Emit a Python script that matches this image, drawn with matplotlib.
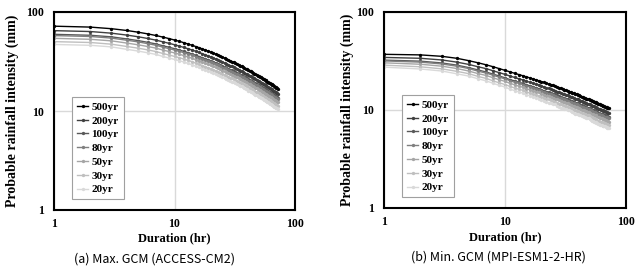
import matplotlib
matplotlib.use("Agg")
import matplotlib.pyplot as plt
from matplotlib.ticker import FixedLocator, FixedFormatter, NullLocator

# durations (hr)
duration = list(range(1, 73))
periods = ["500yr", "200yr", "100yr", "80yr", "50yr", "30yr", "20yr"]

# (a) Max. GCM (ACCESS-CM2), rainfall intensity (mm) per return period
a_500 = [71.9, 70.4, 67.8, 65.1, 62.5, 60.1, 57.9, 55.8, 53.9, 52.1, 50.5, 48.9, 47.4, 46.1, 44.8, 43.6, 42.4, 41.3,
         40.3, 39.3, 38.4, 37.5, 36.6, 35.8, 35.0, 34.3, 33.6, 32.9, 32.2, 31.6, 31.0, 30.4, 29.8, 29.3, 28.7, 28.2,
         27.7, 27.2, 26.8, 26.3, 25.9, 25.5, 25.1, 24.7, 24.3, 23.9, 23.5, 23.2, 22.8, 22.5, 22.2, 21.8, 21.5, 21.2,
         20.9, 20.6, 20.4, 20.1, 19.8, 19.6, 19.3, 19.1, 18.8, 18.6, 18.3, 18.1, 17.9, 17.6, 17.4, 17.2, 17.0, 16.8]
a_200 = [64.8, 63.5, 61.1, 58.5, 56.2, 54.0, 52.0, 50.0, 48.3, 46.7, 45.2, 43.8, 42.5, 41.3, 40.1, 39.0, 37.9, 36.9,
         36.0, 35.1, 34.3, 33.5, 32.7, 32.0, 31.2, 30.6, 30.0, 29.4, 28.7, 28.2, 27.7, 27.1, 26.6, 26.2, 25.6, 25.2,
         24.7, 24.3, 23.9, 23.5, 23.1, 22.7, 22.4, 22.0, 21.6, 21.3, 20.9, 20.7, 20.3, 20.0, 19.8, 19.4, 19.1, 18.9,
         18.6, 18.3, 18.2, 17.9, 17.6, 17.5, 17.2, 17.0, 16.7, 16.6, 16.3, 16.1, 15.9, 15.7, 15.5, 15.3, 15.1, 15.0]
a_100 = [59.5, 58.2, 56.1, 53.5, 51.4, 49.4, 47.6, 45.6, 44.1, 42.6, 41.3, 40.0, 38.7, 37.7, 36.5, 35.5, 34.5, 33.6,
         32.8, 32.0, 31.3, 30.6, 29.8, 29.2, 28.4, 27.8, 27.3, 26.7, 26.1, 25.7, 25.2, 24.7, 24.2, 23.8, 23.3, 22.9,
         22.5, 22.1, 21.8, 21.4, 21.0, 20.6, 20.3, 20.0, 19.7, 19.3, 19.0, 18.8, 18.4, 18.2, 18.0, 17.6, 17.4, 17.1,
         16.9, 16.7, 16.5, 16.3, 16.0, 15.9, 15.6, 15.5, 15.2, 15.0, 14.8, 14.6, 14.5, 14.2, 14.1, 13.9, 13.8, 13.6]
a_80 = [57.8, 56.6, 54.5, 51.9, 49.9, 47.9, 46.2, 44.2, 42.7, 41.3, 40.0, 38.8, 37.6, 36.6, 35.4, 34.4, 33.5, 32.6,
        31.8, 31.0, 30.3, 29.6, 28.9, 28.3, 27.5, 27.0, 26.4, 25.9, 25.3, 24.9, 24.4, 23.9, 23.4, 23.1, 22.6, 22.2,
        21.8, 21.4, 21.1, 20.7, 20.3, 20.0, 19.7, 19.3, 19.0, 18.7, 18.4, 18.2, 17.9, 17.6, 17.4, 17.1, 16.8, 16.6,
        16.4, 16.1, 16.0, 15.7, 15.5, 15.4, 15.1, 15.0, 14.7, 14.6, 14.3, 14.2, 14.0, 13.8, 13.6, 13.5, 13.3, 13.2]
a_50 = [54.2, 53.0, 51.1, 48.6, 46.6, 44.8, 43.2, 41.3, 39.9, 38.6, 37.4, 36.2, 35.1, 34.1, 33.0, 32.1, 31.2, 30.4,
        29.7, 28.9, 28.3, 27.6, 27.0, 26.4, 25.6, 25.1, 24.6, 24.1, 23.6, 23.2, 22.7, 22.3, 21.8, 21.5, 21.0, 20.7,
        20.3, 19.9, 19.6, 19.3, 18.9, 18.6, 18.3, 18.0, 17.7, 17.4, 17.1, 16.9, 16.6, 16.4, 16.2, 15.9, 15.7, 15.4,
        15.2, 15.0, 14.9, 14.6, 14.4, 14.3, 14.1, 13.9, 13.7, 13.6, 13.3, 13.2, 13.0, 12.8, 12.7, 12.5, 12.4, 12.2]
a_30 = [50.2, 49.2, 47.3, 44.9, 43.1, 41.4, 39.9, 38.1, 36.8, 35.6, 34.5, 33.4, 32.4, 31.5, 30.4, 29.6, 28.8, 28.0,
        27.3, 26.6, 26.0, 25.4, 24.8, 24.3, 23.6, 23.1, 22.6, 22.2, 21.7, 21.3, 20.9, 20.5, 20.1, 19.7, 19.3, 19.0,
        18.7, 18.3, 18.1, 17.7, 17.3, 17.1, 16.8, 16.5, 16.3, 16.0, 15.7, 15.5, 15.3, 15.1, 14.9, 14.6, 14.4, 14.2,
        14.0, 13.8, 13.6, 13.4, 13.2, 13.1, 12.9, 12.8, 12.6, 12.4, 12.2, 12.1, 12.0, 11.8, 11.6, 11.5, 11.4, 11.2]
a_20 = [47.0, 46.1, 44.4, 42.0, 40.3, 38.7, 37.3, 35.6, 34.3, 33.2, 32.2, 31.2, 30.2, 29.4, 28.3, 27.6, 26.8, 26.1,
        25.5, 24.8, 24.3, 23.7, 23.1, 22.6, 22.0, 21.5, 21.1, 20.6, 20.2, 19.8, 19.5, 19.1, 18.7, 18.4, 18.0, 17.7,
        17.4, 17.1, 16.8, 16.5, 16.1, 15.9, 15.6, 15.4, 15.1, 14.9, 14.6, 14.4, 14.2, 14.0, 13.8, 13.6, 13.4, 13.2,
        13.0, 12.8, 12.7, 12.5, 12.3, 12.2, 12.0, 11.9, 11.7, 11.6, 11.4, 11.3, 11.1, 10.9, 10.8, 10.7, 10.6, 10.5]

# (b) Min. GCM (MPI-ESM1-2-HR)
b_500 = [37.0, 36.5, 35.3, 33.7, 31.9, 30.3, 28.9, 27.6, 26.4, 25.4, 24.5, 23.7, 23.0, 22.4, 21.8, 21.3, 20.8, 20.3,
         19.9, 19.5, 19.1, 18.7, 18.4, 18.1, 17.8, 17.5, 17.2, 16.9, 16.6, 16.4, 16.1, 15.9, 15.7, 15.4, 15.2, 15.0,
         14.8, 14.6, 14.5, 14.3, 14.1, 13.9, 13.7, 13.6, 13.4, 13.3, 13.1, 13.0, 12.9, 12.7, 12.6, 12.5, 12.3, 12.2,
         12.1, 12.0, 11.9, 11.7, 11.6, 11.5, 11.4, 11.3, 11.2, 11.1, 11.0, 10.9, 10.85, 10.8, 10.7, 10.6, 10.5, 10.4]
b_200 = [34.4, 33.7, 32.4, 30.8, 29.2, 27.6, 26.4, 25.1, 24.0, 23.1, 22.2, 21.5, 20.8, 20.3, 19.7, 19.2, 18.8, 18.3,
         18.0, 17.6, 17.2, 16.8, 16.6, 16.3, 16.0, 15.8, 15.4, 15.2, 14.9, 14.7, 14.4, 14.3, 14.1, 13.8, 13.6, 13.5,
         13.2, 13.1, 13.0, 12.8, 12.6, 12.4, 12.3, 12.2, 12.0, 11.9, 11.7, 11.6, 11.5, 11.4, 11.2, 11.1, 11.0, 10.9,
         10.8, 10.7, 10.6, 10.4, 10.3, 10.2, 10.2, 10.1, 10.0, 9.9, 9.8, 9.7, 9.7, 9.6, 9.5, 9.4, 9.4, 9.3]
b_100 = [32.3, 31.5, 30.2, 28.7, 27.1, 25.6, 24.4, 23.2, 22.2, 21.3, 20.4, 19.8, 19.2, 18.7, 18.1, 17.7, 17.3, 16.8,
         16.5, 16.1, 15.7, 15.4, 15.2, 14.9, 14.7, 14.4, 14.1, 13.9, 13.6, 13.4, 13.2, 13.0, 12.9, 12.6, 12.5, 12.3,
         12.1, 11.9, 11.8, 11.7, 11.5, 11.3, 11.2, 11.1, 10.9, 10.8, 10.7, 10.6, 10.5, 10.4, 10.2, 10.1, 10.0, 9.9,
         9.8, 9.7, 9.6, 9.5, 9.4, 9.3, 9.2, 9.2, 9.1, 9.0, 8.9, 8.8, 8.8, 8.7, 8.7, 8.6, 8.5, 8.4]
b_80 = [31.7, 30.8, 29.5, 28.0, 26.5, 24.9, 23.8, 22.6, 21.6, 20.8, 19.9, 19.2, 18.7, 18.2, 17.6, 17.2, 16.8, 16.4,
        16.0, 15.6, 15.3, 15.0, 14.7, 14.5, 14.3, 14.0, 13.7, 13.4, 13.2, 13.0, 12.8, 12.6, 12.5, 12.2, 12.1, 11.9,
        11.7, 11.5, 11.5, 11.3, 11.1, 11.0, 10.8, 10.7, 10.6, 10.5, 10.4, 10.3, 10.2, 10.0, 9.9, 9.8, 9.6, 9.6,
        9.5, 9.4, 9.3, 9.2, 9.1, 9.0, 8.9, 8.9, 8.8, 8.7, 8.6, 8.5, 8.5, 8.5, 8.4, 8.3, 8.2, 8.2]
b_50 = [30.3, 29.3, 28.0, 26.5, 25.0, 23.5, 22.5, 21.3, 20.3, 19.6, 18.7, 18.1, 17.5, 17.1, 16.5, 16.1, 15.7, 15.4,
        15.1, 14.6, 14.3, 14.0, 13.8, 13.6, 13.3, 13.1, 12.8, 12.6, 12.3, 12.2, 12.0, 11.8, 11.7, 11.4, 11.3, 11.1,
        10.9, 10.8, 10.7, 10.5, 10.4, 10.2, 10.1, 10.0, 9.9, 9.8, 9.7, 9.6, 9.5, 9.4, 9.2, 9.1, 9.0, 8.9,
        8.8, 8.8, 8.7, 8.5, 8.5, 8.4, 8.3, 8.2, 8.2, 8.1, 8.0, 8.0, 7.9, 7.9, 7.8, 7.7, 7.7, 7.6]
b_30 = [28.7, 27.6, 26.3, 24.8, 23.5, 22.0, 21.0, 19.8, 18.9, 18.2, 17.4, 16.8, 16.3, 15.9, 15.3, 14.9, 14.6, 14.2,
        14.0, 13.5, 13.3, 13.0, 12.8, 12.6, 12.3, 12.1, 11.8, 11.6, 11.4, 11.2, 11.0, 10.9, 10.8, 10.6, 10.4, 10.3,
        10.0, 9.9, 9.8, 9.7, 9.6, 9.4, 9.3, 9.2, 9.1, 9.0, 8.9, 8.8, 8.8, 8.6, 8.4, 8.4, 8.2, 8.2,
        8.1, 8.0, 8.0, 7.8, 7.8, 7.7, 7.6, 7.6, 7.5, 7.4, 7.4, 7.3, 7.3, 7.2, 7.2, 7.1, 7.0, 7.0]
b_20 = [27.4, 26.2, 25.0, 23.4, 22.2, 20.8, 19.8, 18.7, 17.8, 17.2, 16.3, 15.8, 15.3, 14.9, 14.3, 14.0, 13.7, 13.4,
        13.1, 12.7, 12.4, 12.1, 11.9, 11.8, 11.6, 11.4, 11.0, 10.8, 10.6, 10.5, 10.3, 10.2, 10.1, 9.9, 9.7, 9.6,
        9.4, 9.2, 9.2, 9.0, 8.9, 8.8, 8.7, 8.6, 8.5, 8.4, 8.3, 8.2, 8.2, 8.0, 7.9, 7.8, 7.7, 7.6,
        7.5, 7.5, 7.4, 7.3, 7.2, 7.2, 7.1, 7.1, 7.0, 6.9, 6.9, 6.8, 6.8, 6.7, 6.7, 6.6, 6.6, 6.5]

panel_a = [a_500, a_200, a_100, a_80, a_50, a_30, a_20]
panel_b = [b_500, b_200, b_100, b_80, b_50, b_30, b_20]
captions = ["(a) Max. GCM (ACCESS-CM2)", "(b) Min. GCM (MPI-ESM1-2-HR)"]

colors = ["#000000", "#3f3f3f", "#595959", "#7f7f7f", "#a5a5a5", "#bfbfbf", "#d9d9d9"]
W, H = 643, 276
serif = "Liberation Serif"

fig = plt.figure(figsize=(W / 100, H / 100), dpi=100)
fig.patch.set_facecolor("white")

# axes boxes in pixels: left, top, right, bottom
boxes = [(54, 12, 295, 210), (384, 12, 626, 208)]
leg_px = [(72, 97), (402, 95)]
ylab_x = [12, 347]
xlab_y = [238, 237]
cap_pos = [(155, 259), (498, 257)]

for i, series in enumerate([panel_a, panel_b]):
    l, t, r, b = boxes[i]
    ax = fig.add_axes([l / W, 1 - b / H, (r - l) / W, (b - t) / H])
    for vals, lab, c in zip(series, periods, colors):
        ax.plot(duration, vals, color=c, lw=1.0, marker="o", ms=2.4, mew=0, label=lab)

    ax.set_xscale("log")
    ax.set_yscale("log")
    ax.set_xlim(1, 100)
    ax.set_ylim(1, 100)
    for axis in (ax.xaxis, ax.yaxis):
        axis.set_major_locator(FixedLocator([1, 10, 100]))
        axis.set_major_formatter(FixedFormatter(["1", "10", "100"]))
        axis.set_minor_locator(NullLocator())
    ax.tick_params(length=0, labelsize=8.5)
    ax.tick_params(axis="y", pad=7)
    ax.tick_params(axis="x", pad=6)
    for lbl in ax.get_xticklabels() + ax.get_yticklabels():
        lbl.set_fontfamily(serif)
        lbl.set_fontweight("bold")
    ax.grid(True, color="#d9d9d9", lw=1.0)
    ax.set_axisbelow(True)
    for sp in ax.spines.values():
        sp.set_linewidth(1.5)
        sp.set_color("black")

    lx, ly = leg_px[i]
    leg = ax.legend(loc="upper left", bbox_to_anchor=((lx - l) / (r - l), (b - ly) / (b - t)),
                    borderaxespad=0, fancybox=False, framealpha=1, edgecolor="#a0a0a0",
                    prop={"family": serif, "weight": "bold", "size": 8},
                    handlelength=1.0, handletextpad=0.3, labelspacing=0.36, borderpad=0.45)
    leg.get_frame().set_linewidth(0.8)

    fig.text(ylab_x[i] / W, 1 - ((t + b) / 2) / H, "Probable rainfall intensity (mm)", rotation=90,
             ha="center", va="center", family=serif, weight="bold", fontsize=10)
    fig.text(((l + r) / 2) / W, 1 - xlab_y[i] / H, "Duration (hr)", ha="center", va="center",
             family=serif, weight="bold", fontsize=9)
    fig.text(cap_pos[i][0] / W, 1 - cap_pos[i][1] / H, captions[i], ha="center", va="center",
             family=["Noto Sans CJK KR", "DejaVu Sans"], fontsize=9)

fig.savefig("out.png", dpi=100)
